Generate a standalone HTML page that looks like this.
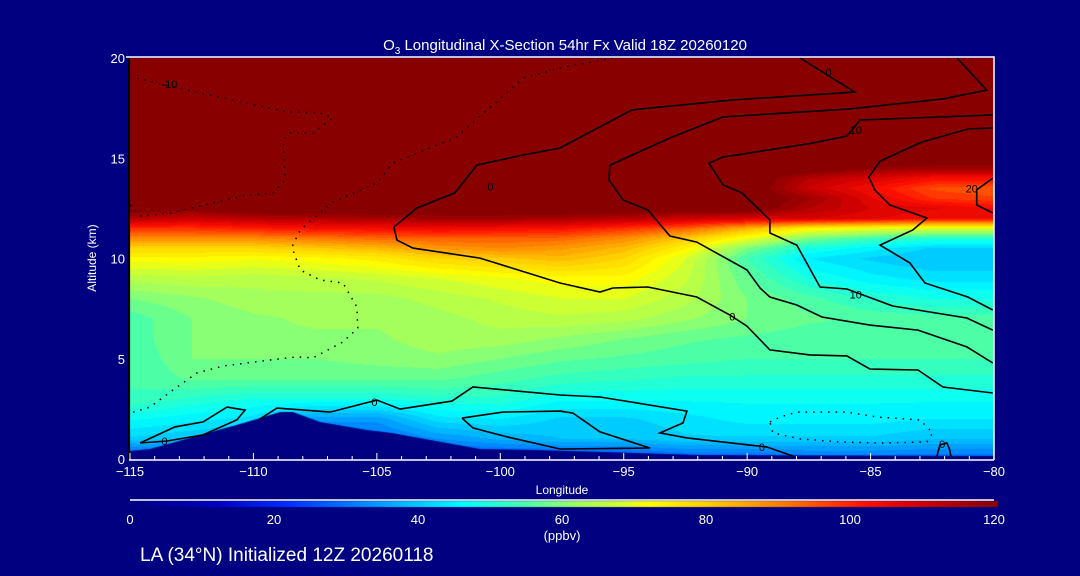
<!DOCTYPE html>
<html><head><meta charset="utf-8"><style>
html,body{margin:0;padding:0;background:#000080;}
#wrap{position:relative;width:1080px;height:576px;overflow:hidden;background:#000080;font-family:"Liberation Sans",sans-serif;color:#fff;}
canvas,svg{position:absolute;left:0;top:0;}
</style></head><body>
<div id="wrap">
<canvas id="field" width="1080" height="576"></canvas>
<svg id="ov" width="1080" height="576"></svg>
</div>
<script>
const lons=[-115,-112.5,-110,-107.5,-105,-102.5,-100,-97.5,-95,-92.5,-90,-87.5,-85,-82.5,-80];
const alts=[0,1,2,3,4,5,6,7,8,9,10,10.5,11,11.5,12,12.5,13,13.5,14,14.5,15,20];
const ozone=[
[25,25,25,25,25,25,25,25,25,28,28,30,30,30,30],
[42,40,38,30,30,35,38,40,40,42,42,42,42,40,40],
[48,46,44,36,36,44,45,42,42,44,46,46,46,45,45],
[55,52,50,50,50,52,52,48,48,48,48,48,48,48,48],
[55,58,58,58,58,58,56,54,53,52,52,52,52,52,52],
[55,60,60,60,61,62,60,58,57,56,55,55,55,55,55],
[56,60,62,62,62,64,64,62,60,58,57,56,56,56,56],
[56,60,62,63,63,64,66,67,66,63,60,58,57,56,56],
[60,62,64,64,64,66,68,70,70,66,60,56,52,50,50],
[66,67,66,67,68,70,72,74,74,68,58,50,46,44,44],
[74,74,73,74,76,80,82,84,80,70,55,45,42,40,40],
[80,80,80,82,84,88,90,88,84,75,60,50,46,42,42],
[90,90,90,92,94,95,95,94,90,82,72,60,55,52,52],
[100,100,102,104,105,106,105,104,100,95,85,75,72,70,70],
[115,112,115,116,117,118,118,117,115,112,110,110,108,105,105],
[125,122,125,125,125,125,125,125,125,125,125,115,110,108,105],
[125,125,125,125,125,125,125,125,125,125,125,118,108,100,98],
[125,125,125,125,125,125,125,125,125,125,125,112,105,97,95],
[125,125,125,125,125,125,125,125,125,125,125,115,110,105,105],
[125,125,125,125,125,125,125,125,125,125,125,125,120,118,118],
[125,125,125,125,125,125,125,125,125,125,125,125,125,125,125],
[125,125,125,125,125,125,125,125,125,125,125,125,125,125,125]];
const terrainLon=[-115,-114.19,-110.26,-108.92,-108.4,-107.3,-105.4,-104.39,-102.16,-100.82,-98.6,-95.84,-91.91,-80];
const terrainAlt=[0.4,0.5,1.85,2.34,2.34,1.85,1.45,1.3,0.8,0.5,0.45,0.35,0.2,0.15];
const xTicks=[-115,-110,-105,-100,-95,-90,-85,-80];
const yTicks=[0,5,10,15,20];
const cbTicks=[0,20,40,60,80,100,120];
const contours=[
{lon:[-87.86,-85.64,-90.58,-94.67,-97.58,-99.08,-100.95,-101.84,-103.38,-104.31,-104.19,-103.54,-100.82,-97.58,-95.96,-95.44,-94.02,-92.04,-90.7,-90.01,-89.08,-87.46,-85.96,-85.03,-83.08,-82.07,-80.05],
 alt:[20,18.3,17.91,17.41,15.51,15.16,14.66,13.27,12.52,11.57,10.92,10.52,10.02,8.78,8.33,8.53,8.58,8.08,7.18,6.63,5.44,5.19,5.14,4.49,4.44,3.59,3.29],dot:false},
{lon:[-81.5,-80.29,-82.07,-85.84,-90.98,-93.13,-95.56,-95.6,-95.03,-94.02,-93.13,-92.04,-90.01,-89.48,-89.08,-87.99,-86.97,-85.03,-83.08,-81.1,-80.05],
 alt:[20,18.4,17.96,17.46,17.06,16.01,14.66,13.92,12.92,12.42,11.12,10.82,9.43,8.53,8.08,7.68,7.08,6.68,6.43,5.59,4.79],dot:false},
{lon:[-80.05,-85.43,-85.96,-87.34,-90.98,-91.55,-90.98,-90.21,-89.08,-89.08,-87.99,-87.05,-85.96,-84.1,-81.1,-80.05],
 alt:[17.16,16.91,16.11,15.76,15.06,14.76,13.67,13.27,11.92,11.27,10.67,8.58,8.48,7.63,7.03,6.43],dot:false},
{lon:[-80.05,-81.06,-82.92,-84.62,-85.07,-84.83,-84.22,-82.72,-83.29,-84.62,-83.41,-82.8,-81.06,-80.05],
 alt:[16.51,16.46,15.81,14.86,14.06,13.42,12.67,12.02,11.42,10.67,9.78,8.78,8.08,7.43],dot:false},
{lon:[-80.05,-80.7,-80.7,-80.05],alt:[14.01,13.42,12.67,12.27],dot:false},
{lon:[-109.73,-109.05,-106.9,-105,-104.06,-101.96,-101.11,-97.58,-95.96,-92.44,-92.6,-93.53,-92.44,-89.2,-88.15],
 alt:[2,2.54,2.34,2.94,2.49,2.89,3.59,3.19,3.09,2.39,1.8,1.3,1.05,0.6,0.15],dot:false},
{lon:[-101.55,-99.89,-97.58,-97.06,-95.96,-93.94,-97.58,-99.73,-101.11,-101.55],
 alt:[2.04,2.34,2.39,2.29,1.35,0.55,0.5,1.1,1.55,2.04],dot:false},
{lon:[-114.59,-113.18,-112.04,-111.07,-110.34,-110.67,-112.04,-113.5,-114.59],
 alt:[0.8,1.6,1.85,2.59,2.44,1.95,1.2,0.9,0.8],dot:false},
{lon:[-82.31,-82.19,-81.91,-81.79,-81.75],alt:[0.15,0.7,0.8,0.45,0.15],dot:false},
{lon:[-114.72,-113.91,-112.16,-108.64,-107.3,-106.78,-107.59,-108.52,-108.8,-108.72,-109.21,-110.42,-112.16,-113.5,-114.59,-115],
 alt:[19,18.75,18.25,17.31,17.26,17.01,16.26,16.26,15.91,13.92,13.27,13.12,12.62,12.22,12.12,12.67],dot:true},
{lon:[-95.44,-97.58,-99.08,-101.76,-104.35,-105,-106.78,-108.11,-108.44,-108.11,-107.3,-106.37,-105.81,-105.77,-106.37,-107.59,-108.24,-109.33,-111.23,-112.29,-113.26,-114.19,-115],
 alt:[20,19.5,19,16.06,14.76,13.77,12.82,11.42,10.57,9.43,8.93,8.78,7.58,6.53,5.84,5.04,5.09,4.94,4.64,4.29,3.44,2.59,2.29],dot:true},
{lon:[-89.08,-88.67,-87.99,-85.96,-84.74,-83,-82.48,-82.72,-84.62,-86.24,-87.86,-88.96,-89.08],
 alt:[1.85,2.09,2.34,2.34,2.09,1.95,1.3,0.85,0.8,0.85,1,1.3,1.85],dot:true}];
const labelText=["-10","0","0","10","10","0","20","0","0","0","0"];
const labelLon=[-113.4,-100.4,-86.7,-85.6,-85.6,-90.6,-80.9,-105.1,-113.6,-89.4,-82.1];
const labelAlt=[18.7,13.6,19.3,16.4,8.2,7.1,13.5,2.85,0.9,0.6,0.75];

const X0=130,X1=994,Y0=459,Y1=58;
const xs=l=>X0+(l+115)/35*(X1-X0);
const ys=a=>Y0-a/20*(Y0-Y1);
const stops=[[0,[0,0,128]],[12,[0,0,192]],[22,[0,48,255]],[35,[0,160,255]],[46,[0,255,255]],[54,[64,255,176]],[62,[160,255,96]],[68,[208,255,48]],[72,[255,255,0]],[80,[255,208,0]],[90,[255,128,0]],[102,[255,16,0]],[110,[208,0,0]],[120,[136,0,0]]];
function cmap(v){v=Math.max(0,Math.min(120,v));for(let i=1;i<stops.length;i++){if(v<=stops[i][0]){const a=stops[i-1],b=stops[i],t=(v-a[0])/(b[0]-a[0]);return [0,1,2].map(k=>Math.round(a[1][k]+(b[1][k]-a[1][k])*t));}}return stops[stops.length-1][1];}
function idx(arr,v){for(let i=0;i<arr.length-1;i++)if(v<=arr[i+1])return i;return arr.length-2;}
const cv=document.getElementById('field');const ctx=cv.getContext('2d');
const img=ctx.createImageData(X1-X0,Y0-Y1);
for(let py=0;py<Y0-Y1;py++){const a=(Y0-(Y1+py+0.5))/(Y0-Y1)*20;const j=idx(alts,a);const ta=Math.max(0,Math.min(1,(a-alts[j])/(alts[j+1]-alts[j])));
 for(let px=0;px<X1-X0;px++){const l=-115+(px+0.5)/(X1-X0)*35;const i=idx(lons,l);const tl=(l-lons[i])/(lons[i+1]-lons[i]);
  const v=(ozone[j][i]*(1-tl)+ozone[j][i+1]*tl)*(1-ta)+(ozone[j+1][i]*(1-tl)+ozone[j+1][i+1]*tl)*ta;
  const q=Math.floor(v/2.5)*2.5;const c=cmap(q);const o=(py*(X1-X0)+px)*4;img.data[o]=c[0];img.data[o+1]=c[1];img.data[o+2]=c[2];img.data[o+3]=255;}}
ctx.putImageData(img,X0,Y1);
// terrain
ctx.fillStyle='#000080';ctx.beginPath();ctx.moveTo(xs(-115),Y0);
for(let k=0;k<terrainLon.length;k++)ctx.lineTo(xs(terrainLon[k]),ys(terrainAlt[k]));
ctx.lineTo(xs(-80),Y0);ctx.closePath();ctx.fill();
// colorbar
for(let px=0;px<=X1-X0+3;px++){const c=cmap(px/(X1-X0)*120);ctx.fillStyle=`rgb(${c[0]},${c[1]},${c[2]})`;ctx.fillRect(X0+px,501,1,6);}

const NS='http://www.w3.org/2000/svg';const svg=document.getElementById('ov');
function mk(t,at,parent){const e=document.createElementNS(NS,t);for(const k in at)e.setAttribute(k,at[k]);(parent||svg).appendChild(e);return e;}
contours.forEach((c,n)=>{const pts=c.lon.map((l,k)=>xs(l).toFixed(1)+','+ys(c.alt[k]).toFixed(1)).join(' ');
 const p=mk('polyline',{points:pts,fill:'none',stroke:'#000','stroke-width':c.dot?1.5:1.6,'stroke-dasharray':c.dot?'1.5,6':'none'});
 
 });
labelText.forEach((t,k)=>{const e=mk('text',{x:xs(labelLon[k]),y:ys(labelAlt[k])+4,'font-size':11,fill:'#000','text-anchor':'middle','font-family':'Liberation Sans, sans-serif'});e.textContent=t;
 
 });
// frame
const fr=mk('path',{d:`M${X0-4},${Y1-1}H${X1}V${Y0+1}`,fill:'none',stroke:'#fff','stroke-width':1.5});

const la=mk('line',{x1:X0-1,y1:Y1,x2:X0-1,y2:Y0+1,stroke:'#000','stroke-width':2});

const xa=mk('line',{x1:X0-1,y1:Y0+1,x2:X1,y2:Y0+1,stroke:'#fff','stroke-width':1.5});

for(let l=-115;l<=-80;l++){const maj=xTicks.includes(l);const t=mk('line',{x1:xs(l),x2:xs(l),y1:Y0+1,y2:Y0+1-(maj?7:4),stroke:'#fff','stroke-width':1});
 }
xTicks.forEach(l=>{const e=mk('text',{x:xs(l),y:Y0+17,'font-size':13,fill:'#fff','text-anchor':'middle'});e.textContent=String(l).replace('-','\u2212');
 });
yTicks.forEach(a=>{const e=mk('text',{x:X0-5,y:ys(a)+5,'font-size':13,fill:'#fff','text-anchor':'end'});e.textContent=a;
 });
const xt=mk('text',{x:562,y:494,'font-size':12,fill:'#fff','text-anchor':'middle'});xt.textContent='Longitude';

const yt=mk('text',{x:96,y:258,'font-size':12,fill:'#fff','text-anchor':'middle',transform:'rotate(-90 96 258)'});yt.textContent='Altitude (km)';

const ti=mk('text',{x:565,y:50,'font-size':15,fill:'#fff','text-anchor':'middle'});ti.innerHTML='O<tspan font-size="10" dy="4">3</tspan><tspan dy="-4"> Longitudinal X-Section 54hr  Fx Valid 18Z 20260120</tspan>';

const cbl=mk('line',{x1:X0,y1:500,x2:X1,y2:500,stroke:'#fff','stroke-width':1.5});

cbTicks.forEach(v=>{const e=mk('text',{x:X0+v/120*(X1-X0),y:524,'font-size':13,fill:'#fff','text-anchor':'middle'});e.textContent=v;
 });
const un=mk('text',{x:562,y:540,'font-size':13,fill:'#fff','text-anchor':'middle'});un.textContent='(ppbv)';

const ft=mk('text',{x:140,y:561,'font-size':19,fill:'#fff'});ft.textContent='LA (34\u00B0N) Initialized 12Z 20260118';

</script>
</body></html>
